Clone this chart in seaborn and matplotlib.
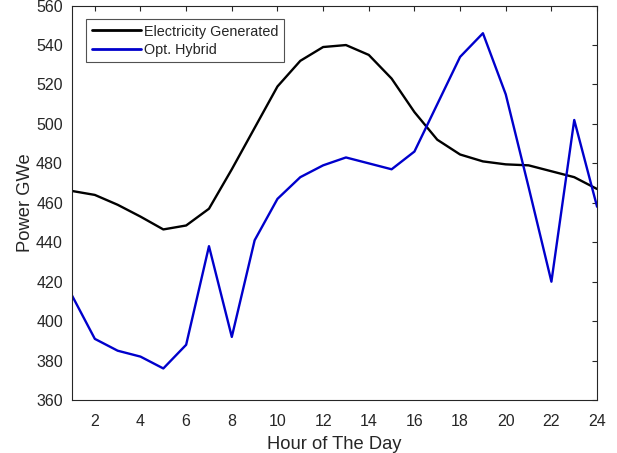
import numpy as np
import pandas as pd
import matplotlib
matplotlib.use("Agg")
import matplotlib.pyplot as plt
import seaborn as sns

hours = list(range(1, 25))
electricity = [466, 464, 459, 453, 446.5, 448.5, 457, 477, 498, 519, 532, 539,
               540, 535, 523, 506, 492, 484.5, 481, 479.5, 479, 476, 473, 467]
hybrid = [413, 391, 385, 382, 376, 388, 438, 392, 441, 462, 473, 479,
          483, 480, 477, 486, 510, 534, 546, 515, 468, 420, 502, 458]
series_names = ["Electricity Generated", "Opt. Hybrid"]
xticks = list(range(2, 25, 2))
yticks = list(range(360, 561, 20))

df = pd.DataFrame({
    "Hour": hours * 2,
    "Power": electricity + hybrid,
    "Series": [series_names[0]] * 24 + [series_names[1]] * 24,
})

sns.set_style("white")
plt.rcParams['font.family'] = ['Liberation Sans', 'DejaVu Sans']

fig = plt.figure(figsize=(6.17, 4.53), dpi=100)
ax = fig.add_axes([0.1167, 0.117, 0.851, 0.8706])
sns.lineplot(data=df, x="Hour", y="Power", hue="Series",
             palette={series_names[0]: "#000000", series_names[1]: "#0000CC"},
             linewidth=1.7, ax=ax, legend=True)

ax.set_xlim(1, 24)
ax.set_ylim(360, 560)
ax.set_xticks(xticks)
ax.set_yticks(yticks)
ax.tick_params(direction="in", length=3.6, width=0.8, top=True, right=True,
               labelsize=11.5, colors="#262626")
ax.tick_params(axis="y", pad=6.5)
ax.tick_params(axis="x", pad=10)
for s in ax.spines.values():
    s.set_color("#262626")
    s.set_linewidth(0.8)
    s.set_visible(True)
ax.set_xlabel("Hour of The Day", fontsize=13.2, color="#262626", labelpad=5)
ax.set_ylabel("Power GWe", fontsize=13.2, color="#262626", labelpad=1.5)

leg = ax.legend(loc="upper left", bbox_to_anchor=(0.027, 0.966), fontsize=10.4,
                frameon=True, fancybox=False, edgecolor="#262626",
                handlelength=3.4, handletextpad=0.2, borderpad=0.38,
                labelspacing=0.3, borderaxespad=0)
leg.get_frame().set_linewidth(0.8)
for h in leg.get_lines():
    h.set_linewidth(2.0)

fig.savefig("out.png", dpi=100)
